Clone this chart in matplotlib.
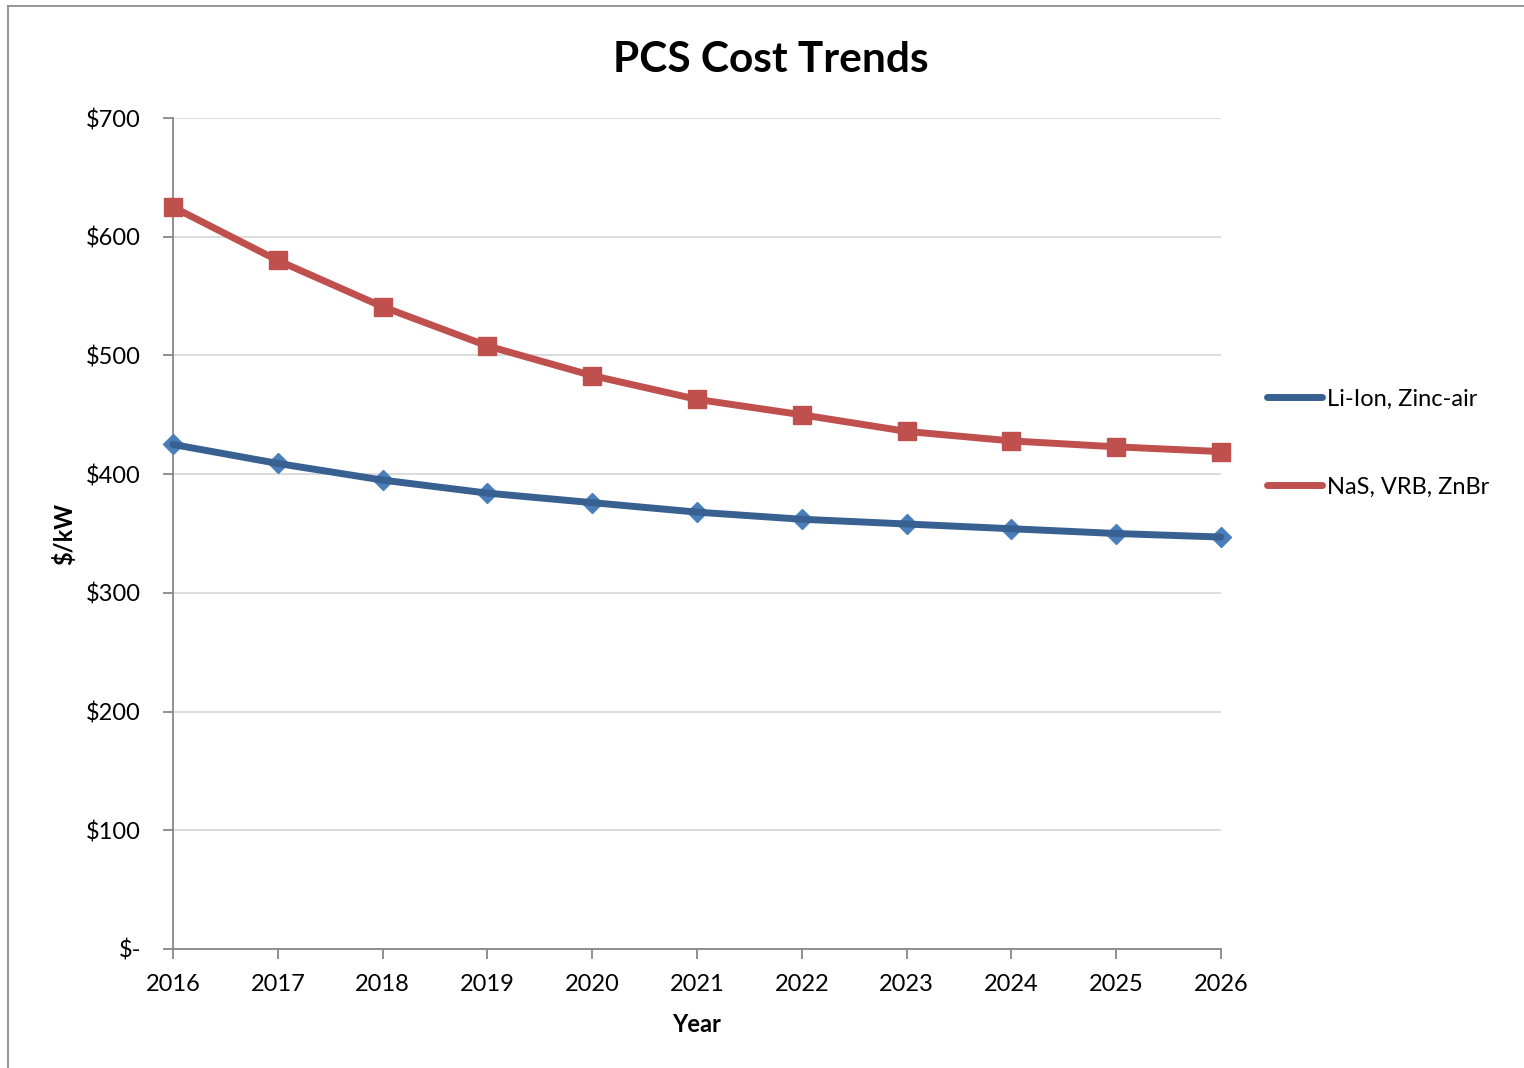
import matplotlib
matplotlib.use("Agg")
import matplotlib.pyplot as plt
from matplotlib.lines import Line2D
from matplotlib.ticker import FuncFormatter

plt.rcParams["font.family"] = ["Lato", "DejaVu Sans"]

years = [2016, 2017, 2018, 2019, 2020, 2021, 2022, 2023, 2024, 2025, 2026]
li_ion = [425, 409, 395, 384, 376, 368, 362, 358, 354, 350, 347]
nas = [625, 580, 541, 508, 483, 463, 450, 436, 428, 423, 419]
series_names = ["Li-Ion, Zinc-air", "NaS, VRB, ZnBr"]

BLUE_LINE = "#386192"
BLUE_MARK = "#4A7EBB"
RED = "#C0504D"
GRID = "#D9D9D9"
AXIS = "#888888"
LW = 5.0

fig = plt.figure(figsize=(15.24, 10.68), dpi=100)
ax = fig.add_axes([173 / 1524, 1 - 949 / 1068, (1221 - 173) / 1524, (949 - 118) / 1068])

# Li-Ion: line drawn over the diamond markers
ax.plot(years, li_ion, ls="none", marker="D", ms=10, color=BLUE_MARK, zorder=3,
        clip_on=False)
ax.plot(years, li_ion, color=BLUE_LINE, lw=LW, solid_capstyle="round", zorder=4,
        clip_on=False)
# NaS etc: squares on top of the line
ax.plot(years, nas, color=RED, lw=LW, marker="s", ms=13, mfc=RED, mec=RED,
        solid_capstyle="round", zorder=4, clip_on=False)

ax.set_xlim(2016, 2026)
ax.set_ylim(0, 700)
ax.set_xticks(years)
ax.set_yticks(range(0, 701, 100))
ax.yaxis.set_major_formatter(FuncFormatter(lambda v, p: "$-" if v == 0 else f"${v:.0f}"))
ax.grid(True, axis="y", color=GRID, lw=1.3, zorder=0)
ax.set_axisbelow(True)

for side in ("top", "right"):
    ax.spines[side].set_visible(False)
for side in ("left", "bottom"):
    ax.spines[side].set_color(AXIS)
    ax.spines[side].set_linewidth(1.3)
ax.tick_params(axis="both", direction="out", length=7, width=1.3, color=AXIS,
               labelsize=17)
ax.tick_params(axis="y", pad=16)
ax.tick_params(axis="x", pad=11)

ax.set_xlabel("Year", fontsize=17, fontweight="bold", labelpad=13)
ax.set_ylabel("$/kW", fontsize=17, fontweight="bold", labelpad=7)
fig.text(0.506, 1 - 60 / 1068, "PCS Cost Trends", ha="center", va="center",
         fontsize=30.5, fontweight="bold")

handles = [Line2D([], [], color=BLUE_LINE, lw=LW, solid_capstyle="round"),
           Line2D([], [], color=RED, lw=LW, solid_capstyle="round")]
fig.legend(handles, series_names, loc="upper left",
           bbox_to_anchor=(1258 / 1524, 1 - 379 / 1068), frameon=False,
           fontsize=17, handlelength=2.33, handletextpad=0.18, labelspacing=2.84,
           borderaxespad=0)

# outer chart-area border (left and top edges)
bx0, by1 = 8 / 1524, 1 - 6 / 1068
for xs, ys in (([bx0, bx0], [0, by1]), ([bx0, 1], [by1, by1])):
    fig.add_artist(Line2D(xs, ys, transform=fig.transFigure, color="#8C8C8C", lw=1.3))

fig.savefig("out.png", dpi=100)
